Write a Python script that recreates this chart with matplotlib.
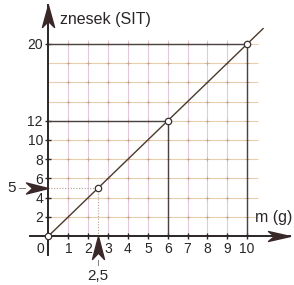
import matplotlib
matplotlib.use("Agg")
import matplotlib.pyplot as plt
from matplotlib.path import Path

# ---- data ----
points_m = [0, 2.5, 6, 10]
points_price = [0, 5, 12, 20]
line_m = [0, 10.8]
line_price = [0, 21.6]
x_ticks = [1, 2, 3, 4, 5, 6, 7, 8, 9, 10]
x_tick_labels = ["1", "2", "3", "4", "5", "6", "7", "8", "9", "10"]
y_ticks = [2, 4, 6, 8, 10, 12, 20]
y_tick_labels = ["2", "4", "6", "8", "10", "12", "20"]
grid_x = [1, 2, 3, 4, 5, 6, 7, 8, 9, 10]
grid_y = [2, 4, 6, 8, 10, 12, 14, 16, 18, 20]
ref_x = [6, 10]          # dark vertical guides
ref_y = [12, 20]         # dark horizontal guides
mark_x = 2.5
mark_y = 5
x_label = "m (g)"
y_label = "znesek (SIT)"

plt.rcParams['font.family'] = ['Liberation Sans', 'DejaVu Sans']

fig = plt.figure(figsize=(2.94, 2.85), dpi=100)
fig.patch.set_facecolor('white')
ax = fig.add_axes([30 / 294, 29.8 / 285, 259.9 / 294, 250.2 / 285])
ax.set_xlim(-0.93, 12.15)
ax.set_ylim(-2.0, 24.06)

axis_col = '#2a2626'
vgrid_col = '#e4c8dc'
hgrid_col = '#eacfae'
dark_col = '#4a4242'
line_col = '#4a3a2c'
arrow_col = '#3a2828'
text_col = '#2a2626'

for s in ['top', 'right']:
    ax.spines[s].set_visible(False)
for s in ['left', 'bottom']:
    ax.spines[s].set_position(('data', 0))
    ax.spines[s].set_color(axis_col)
    ax.spines[s].set_linewidth(1.4)
    ax.spines[s].set_zorder(5)

# grid (limited extent)
ax.vlines(grid_x, 0, 20.4, colors=vgrid_col, lw=0.8, zorder=1)
ax.hlines(grid_y, 0, 10.55, colors=hgrid_col, lw=0.8, zorder=1)
gx = [x for x in grid_x for _ in grid_y]
gy = [y for _ in grid_x for y in grid_y]
ax.plot(gx, gy, ls='none', marker='+', ms=3, mew=0.6, color='#c4a898', zorder=1.5)

# dark guide lines
ax.vlines(ref_x, 0, ref_y, colors=dark_col, lw=1.0, zorder=2)
ax.hlines(ref_y, 0, ref_x, colors=dark_col, lw=1.0, zorder=2)

# dotted guides for 2.5 -> 5
ax.plot([0, mark_x], [mark_y, mark_y], ls=(0, (1, 1.5)), color='#b0a090', lw=0.8, zorder=2)
ax.plot([mark_x, mark_x], [0, mark_y], ls=(0, (1, 1.5)), color='#b0a090', lw=0.8, zorder=2)

# main line and points
ax.plot(line_m, line_price, color=line_col, lw=1.0, zorder=3)
ax.plot(points_m, points_price, ls='none', marker='o', ms=4.6, mfc='white',
        mec='#3a3030', mew=0.9, zorder=6, clip_on=False)

# ticks
ax.set_xticks(x_ticks)
ax.set_xticklabels(x_tick_labels)
ax.set_yticks(y_ticks)
ax.set_yticklabels(y_tick_labels)
ax.tick_params(axis='both', direction='inout', length=5, width=1.0, color=axis_col,
               labelsize=10, labelcolor=text_col)
ax.tick_params(axis='x', pad=2.0)
ax.tick_params(axis='y', pad=1.5)
ax.text(-0.42, -1.4, "0", fontsize=10, color=text_col, ha='center', va='center')

# dart-shaped arrow markers (tip at the data point)
def dart(direction, half):
    if direction == 'right':
        v = [(0, 0), (-2, half), (-1.45, 0), (-2, -half), (0, 0)]
    else:
        v = [(0, 0), (half, -2), (0, -1.45), (-half, -2), (0, 0)]
    return Path(v, [Path.MOVETO, Path.LINETO, Path.LINETO, Path.LINETO, Path.CLOSEPOLY])

px2pt = 0.72
ax.plot([0], [24.06], marker=dart('up', 0.55), ms=2 * 22 * px2pt, color=arrow_col,
        ls='none', clip_on=False, zorder=7)
ax.plot([12.15], [0], marker=dart('right', 0.45), ms=2 * 22 * px2pt, color=arrow_col,
        ls='none', clip_on=False, zorder=7)
ax.plot([0], [mark_y], marker=dart('right', 0.5), ms=2 * 22 * px2pt, color=arrow_col,
        ls='none', clip_on=False, zorder=7)
ax.plot([mark_x], [0], marker=dart('up', 0.52), ms=2 * 23 * px2pt, color=arrow_col,
        ls='none', clip_on=False, zorder=7)

# small leader dashes and value labels
ax.plot([-1.5, -1.2], [mark_y, mark_y], color='#8a8080', lw=0.7, clip_on=False)
ax.plot([mark_x, mark_x], [-2.5, -3.0], color='#8a8080', lw=0.7, clip_on=False)
ax.text(-1.84, mark_y, "5", fontsize=11, color=text_col, ha='center', va='center')
ax.text(mark_x, -4.2, "2,5", fontsize=11, color=text_col, ha='center', va='center')

# axis labels
ax.text(0.58, 22.55, y_label, fontsize=11.5, color=text_col, ha='left', va='center')
ax.text(10.4, 1.9, x_label, fontsize=11.5, color=text_col, ha='left', va='center')

fig.savefig("out.png", dpi=100)
